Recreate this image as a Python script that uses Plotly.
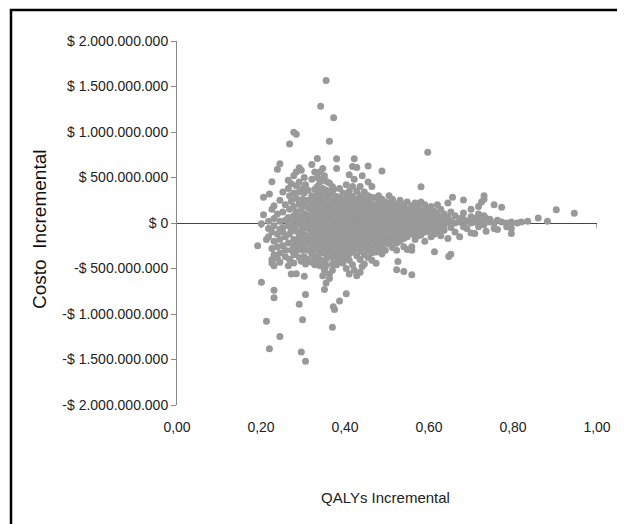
import plotly.graph_objects as go

# Incremental QALYs (x) columns and incremental costs (millions $)
left_qalys = [0.192, 0.201, 0.206, 0.213, 0.218, 0.220, 0.226, 0.231, 0.239, 0.245,
              0.252, 0.258, 0.265, 0.268, 0.272, 0.278, 0.284, 0.291, 0.296, 0.299,
              0.303, 0.306, 0.312, 0.321, 0.328]
left_costs = [
    [-250], [-7, -651], [282, 90], [-1081, -180], [20, -60, -150], [-1382, 320],
    [452, 150, -100, -280, -400, -440], [-821, -738, 190, 50, -30, -200, -350, -470],
    [590, 100, -120, -260, -390], [651, 250, 20, -70, -180, -330, -1248, -430],
    [340, 120, -50, -250, -100], [200, 30, -150, -300, -370],
    [470, 380, 60, -30, -220, -470], [868, 300, 150, -120, -400],
    [430, 240, 10, -80, -300, -560],
    [998, 520, 330, 180, 80, -40, -180, -250, -350, -440],
    [976, 560, 410, 270, 120, 30, -90, -200, -310, -557],
    [608, 450, 340, 210, 60, -20, -150, -250, -380, -893],
    [-1418, 580, 150, 0, -100, -230, -420], [-1063, 380, 260, 90, -60, -180, -300],
    [-586, 500, 330, 200, 50, -30, -130, -250, -370], [-1519, -785, 420, 100, -200, -450],
    [360, 250, 170, 80, 10, -60, -140, -220, -300, -400],
    [644, 480, 300, 220, 140, 60, -20, -100, -180, -260, -340, -430],
    [560, 370, 260, 170, 100, 30, -40, -120, -200, -280, -380, -460],
]

core_qalys = [0.334, 0.340, 0.342, 0.347, 0.351, 0.355, 0.363, 0.370, 0.372, 0.373,
              0.375, 0.380, 0.387, 0.395, 0.403, 0.410, 0.418, 0.422, 0.428, 0.436,
              0.441, 0.446, 0.455, 0.464, 0.474, 0.480, 0.488, 0.496, 0.505, 0.513,
              0.523, 0.526, 0.531, 0.540, 0.548, 0.559, 0.567, 0.575, 0.581, 0.590,
              0.597]
core_costs = [
    [709, 500, 400, 310, 230, 150, 80, 10, -60, -140, -220, -300, -370, -420],
    [560, 450, 350, 270, 190, 120, 50, -20, -90, -160, -240, -320, -400, -470],
    [1284],
    [-579, 600, 480, 380, 290, 220, 150, 80, 20, -50, -110, -180, -250, -330, -430],
    [-730, 520, 250, 110, -20, -150, -280, -520],
    [1566, -658, 460, 360, 300, 190, 130, 60, 0, -70, -130, -200, -260, -340, -400, -470],
    [897, 440, 340, 260, 190, 120, 60, -10, -80, -150, -220, -290, -360, -560, -610],
    [-1146, 400, 320, 240, 170, 100, 40, -30, -100, -170, -240, -310, -380, -450, -520],
    [-920],
    [1157, 370, 210, 80, -60, -200, -340],
    [-950],
    [705, 600, 290, 220, 150, 90, 30, -40, -110, -180, -250, -320, -390, -460],
    [-857, 380, 270, 200, 130, 60, 0, -70, -140, -210, -280, -350, -420],
    [330, 250, 180, 110, 50, -20, -90, -160, -230, -300, -370, -440],
    [-778, 420, 310, 230, 160, 100, 40, -30, -100, -170, -240, -310, -380, -500],
    [530, 350, 270, 200, 130, 70, 10, -60, -130, -200, -270, -340, -410, -560],
    [620, 400, 290, 220, 150, 90, 30, -40, -110, -180, -250, -320, -460],
    [705, 480, 30, -200, -520],
    [610, 350, 260, 190, 120, 60, 0, -70, -140, -210, -280, -360, -580],
    [-542, 400, 300, 230, 160, 100, 40, -30, -100, -170, -240, -310, -400],
    [-477, 520, 250, 60, -120],
    [340, 270, 200, 130, 70, 10, -60, -130, -200, -270, -350, -450],
    [626, 450, 300, 230, 160, 100, 40, -20, -90, -160, -230, -300, -380],
    [400, 280, 210, 140, 80, 20, -50, -120, -190, -260, -330, -410],
    [-441, 280, 200, 130, 70, 10, -50, -110, -180, -250, -320],
    [300, 240, 160, 100, 40, -20, -80, -150, -220, -290],
    [571, -340, 260, 190, 120, 60, 0, -60, -130, -200, -260],
    [230, 160, 100, 40, -20, -80, -150, -220, -300],
    [300, 220, 150, 90, 30, -30, -90, -160, -230],
    [260, 190, 120, 60, 0, -60, -120, -190, -270],
    [-514, 210, 150, 90, 30, -30, -90, -150, -220, -300],
    [-423],
    [250, 170, 110, 50, -10, -70, -130, -200],
    [-532, 200, 130, 70, 10, -50, -110, -170, -260],
    [230, 150, 90, 30, -30, -90, -150, -290],
    [-568, 190, 120, 60, 0, -60, -120, -260, -300],
    [220, 140, 80, 20, -40, -100, -180],
    [170, 100, 40, -20, -80, -140],
    [398, 230, 120, 60, 0, -60, -130],
    [200, 140, 80, 20, -40, -100, -200],
    [778, 150, 90, 30, -30, -90],
]

right_qalys = [0.605, 0.613, 0.620, 0.628, 0.636, 0.645, 0.647, 0.652, 0.656, 0.662,
               0.673, 0.682, 0.690, 0.700, 0.709, 0.718, 0.725, 0.731, 0.736, 0.745,
               0.755, 0.763, 0.773, 0.785, 0.796, 0.810, 0.820, 0.835, 0.860, 0.882,
               0.903, 0.946]
right_costs = [
    [180, 110, 50, -10, -70, -150], [-315, 130, 60, 0, -60, -120], [200, 90, 30, -30, -100],
    [150, 60, 0, -60, -140], [100, 30, -20, -80], [-170, 220, 60, 10], [-369],
    [-344, 120, 20, -50], [282], [80, 0, -100], [-152, 50, 10], [253, 110, 40, -40],
    [20, -60], [150, 70, 0, -110], [-116, 50, 10], [180, 100, 30, -40], [230, 20],
    [300, 260, 80, -20], [-90, 50], [40, 10], [200, 0, -60], [-72, 30], [174, 10],
    [0, -40], [-116, -60, 10], [0], [10], [20], [54], [18], [145], [108],
]

x_tick_vals = [0, 0.2, 0.4, 0.6, 0.8, 1.0]
x_tick_text = ["0,00", "0,20", "0,40", "0,60", "0,80", "1,00"]
y_tick_vals = [2000, 1500, 1000, 500, 0, -500, -1000, -1500, -2000]
y_tick_text = ["$ 2.000.000.000", "$ 1.500.000.000", "$ 1.000.000.000", "$ 500.000.000",
               "$ 0", "-$ 500.000.000", "-$ 1.000.000.000", "-$ 1.500.000.000",
               "-$ 2.000.000.000"]

xs, ys = [], []
for qs, cs in ((left_qalys, left_costs), (core_qalys, core_costs), (right_qalys, right_costs)):
    for q, col in zip(qs, cs):
        for c in col:
            xs.append(q)
            ys.append(c)

fig = go.Figure()
fig.add_trace(go.Scatter(
    x=xs, y=ys, mode="markers",
    marker=dict(size=7, color="#999999", line=dict(width=0)),
    hoverinfo="skip", showlegend=False,
))

font_family = "Liberation Sans, Arial, sans-serif"

# plot area in figure pixels: x 169..589, y 33..397 (page adds an 8px offset)
PL, PW, PT, PH = 169, 420, 33, 364
PB = PT + PH

fig.update_layout(
    width=625, height=524,
    margin=dict(l=PL, r=625 - PL - PW, t=PT, b=524 - PB),
    paper_bgcolor="white", plot_bgcolor="white",
    font=dict(family=font_family, color="#222222"),
    xaxis=dict(
        range=[0, 1], showgrid=False, zeroline=False, showline=False,
        tickvals=x_tick_vals, ticktext=x_tick_text, ticks="",
        tickfont=dict(size=14, color="#222222"), ticklabelstandoff=12,
        fixedrange=True,
    ),
    yaxis=dict(
        range=[-2000, 2000], showgrid=False,
        zeroline=True, zerolinecolor="#444444", zerolinewidth=1,
        showline=True, linecolor="#888888", linewidth=1,
        ticks="outside", ticklen=5, tickcolor="#888888",
        tickvals=y_tick_vals, ticktext=y_tick_text,
        tickfont=dict(size=14, color="#222222"),
        fixedrange=True,
    ),
)

shapes = []
# ticks along the horizontal axis drawn at y = 0 (beneath the points)
for v in x_tick_vals[1:]:
    shapes.append(dict(type="line", xref="x", yref="y", x0=v, x1=v,
                       ysizemode="pixel", yanchor=0, y0=0, y1=-5,
                       line=dict(color="#444444", width=1), layer="below"))
# outer frame
shapes.append(dict(type="rect", xref="paper", yref="paper",
                   x0=(3 - PL) / PW, x1=(612 - PL) / PW,
                   y0=(PB - 540) / PH, y1=(PB - 2) / PH,
                   line=dict(color="black", width=2.5), fillcolor="rgba(0,0,0,0)",
                   layer="above"))
fig.update_layout(shapes=shapes)

fig.add_annotation(text="Costo  Incremental", xref="paper", yref="paper",
                   x=(32 - PL) / PW, y=(PB - 222) / PH, textangle=-90,
                   showarrow=False, font=dict(size=19, color="#111111"),
                   xanchor="center", yanchor="middle")
fig.add_annotation(text="QALYs Incremental", xref="paper", yref="paper",
                   x=(377 - PL) / PW, y=(PB - 489) / PH,
                   showarrow=False, font=dict(size=15, color="#222222"),
                   xanchor="center", yanchor="middle")

fig.write_html("out.html")
